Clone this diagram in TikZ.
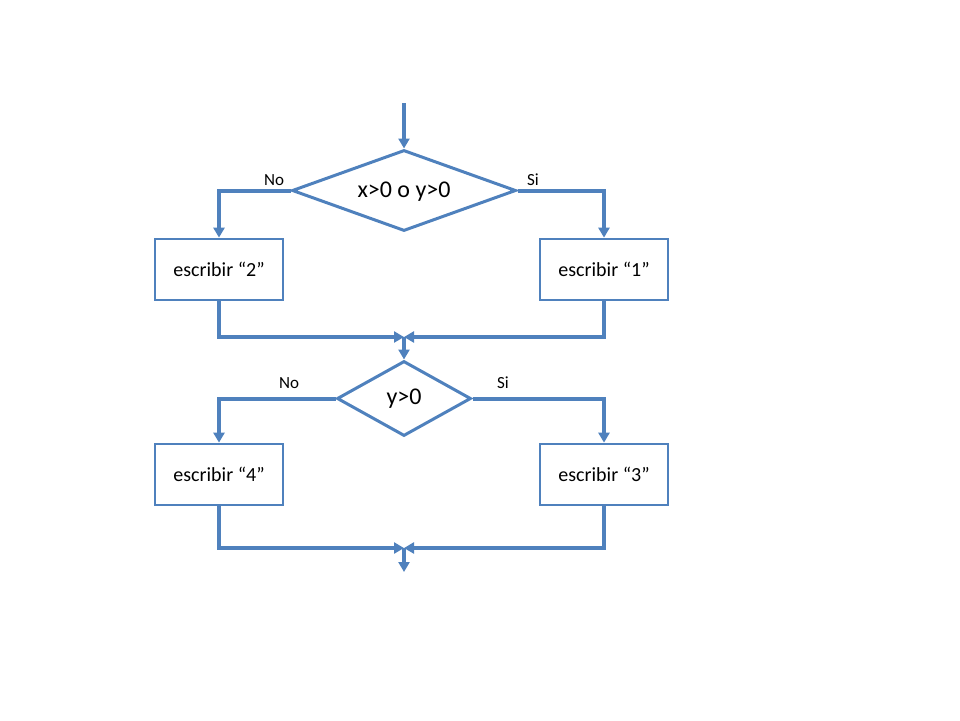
\documentclass[tikz,border=0pt]{standalone}
\usepackage{fontspec}
\setmainfont{Carlito}
\usetikzlibrary{arrows.meta,shapes.geometric}
\definecolor{lineblue}{HTML}{4F81BD}
\begin{document}
\begin{tikzpicture}[x=1pt,y=-1pt,
  flow/.style={draw=lineblue,line width=4pt,-{Triangle[length=10pt,width=11pt]}},
  procbox/.style={draw=lineblue,line width=2.7pt,minimum width=128pt,minimum height=61pt,inner sep=0pt,font=\fontsize{20}{24}\selectfont},
  decision/.style={draw=lineblue,line width=3pt,diamond,inner sep=0pt},
  dtext/.style={inner sep=0pt,font=\fontsize{24}{28}\selectfont},
  lbl/.style={font=\fontsize{17}{20}\selectfont,inner sep=0pt}]
\useasboundingbox (0,0) rectangle (960,720);
\coordinate (start) at (404,103);
\node[decision,minimum width=224pt,minimum height=81pt] (d1) at (404,190.5) {};
\node[dtext] (d1t) at (404,192) {x>0 o y>0};
\node[procbox] (b2) at (219,269.5) {escribir ``2''};
\node[procbox] (b1) at (604,269.5) {escribir ``1''};
\coordinate (m1) at (404,337);
\node[decision,minimum width=134pt,minimum height=75pt] (d2) at (404,398.5) {};
\node[dtext] (d2t) at (404,398.5) {y>0};
\node[procbox] (b4) at (219,474.5) {escribir ``4''};
\node[procbox] (b3) at (604,474.5) {escribir ``3''};
\coordinate (m2) at (404,548);
\coordinate (end) at (404,572);
\node[lbl] (n1) at (274,180) {No};
\node[lbl] (s1) at (533,180) {Si};
\node[lbl] (n2) at (289,383) {No};
\node[lbl] (s2) at (503,383) {Si};
\draw[flow] (start) -- (d1.north);
\draw[flow] (d1.west) -| (b2.north);
\draw[flow] (d1.east) -| (b1.north);
\draw[flow] (b2.south) |- (m1);
\draw[flow] (b1.south) |- (m1);
\draw[flow] (m1) -- (d2.north);
\draw[flow] (d2.west) -| (b4.north);
\draw[flow] (d2.east) -| (b3.north);
\draw[flow] (b4.south) |- (m2);
\draw[flow] (b3.south) |- (m2);
\draw[flow] (m2) -- (end);
\end{tikzpicture}
\end{document}
